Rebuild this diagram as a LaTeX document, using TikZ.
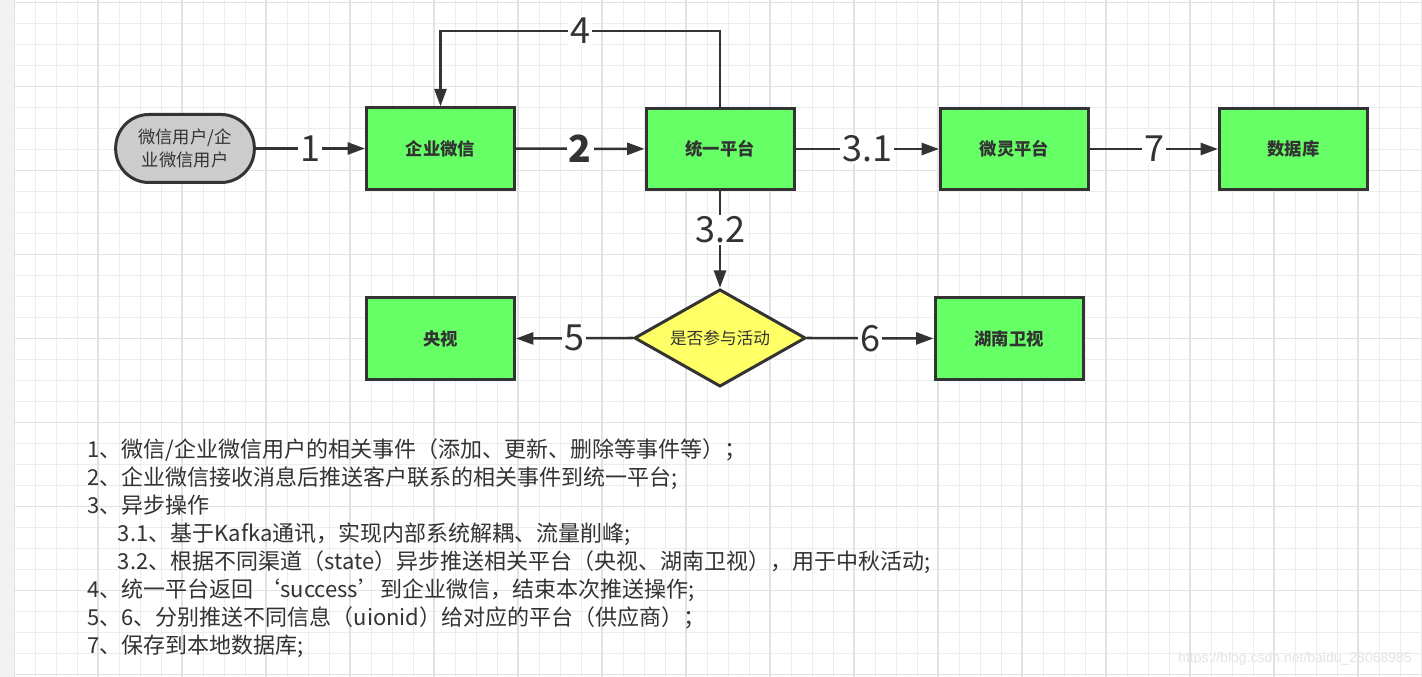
\documentclass[tikz,border=0pt]{standalone}
\usepackage{fontspec}
\setmainfont{Noto Sans CJK SC}
\newfontfamily\wmfont{Liberation Sans}
\usetikzlibrary{shapes.geometric,arrows.meta}
\definecolor{ink}{HTML}{333333}
\definecolor{boxgreen}{HTML}{66FF66}
\definecolor{dyellow}{HTML}{FFFF66}
\definecolor{sgray}{HTML}{CCCCCC}
\definecolor{gridminor}{HTML}{EDEDED}
\definecolor{gridmajor}{HTML}{E2E2E2}
\definecolor{stripgray}{HTML}{F2F2F2}
\definecolor{wmgray}{HTML}{E4E4E4}
\begin{document}
\begin{tikzpicture}[x=0.75pt,y=-0.75pt,
  procbox/.style={draw=ink, line width=2.25pt, fill=boxgreen, minimum width=111pt, minimum height=61pt,
    inner sep=0pt, text=ink, font=\bfseries\fontsize{13}{15}\selectfont},
  terminal/.style={draw=ink, line width=2.25pt, fill=sgray, rounded corners=25pt, minimum width=104pt,
    minimum height=51pt, align=center, text=ink, font=\fontsize{13}{17.25}\selectfont},
  decision/.style={diamond, aspect=1.74, draw=ink, line width=2.25pt, fill=dyellow, minimum width=128.5pt,
    minimum height=73pt, inner sep=0pt, text=ink, font=\fontsize{12.5}{15}\selectfont},
  flow/.style={draw=ink, line width=1.9pt, -{Triangle[length=13pt,width=9pt]}},
  lbl/.style={fill=white, text=ink, inner sep=1.5pt, font=\fontsize{27}{27}\selectfont},
  gminor/.style={draw=gridminor, line width=0.75pt},
  gmajor/.style={draw=gridmajor, line width=0.9pt}
]
\useasboundingbox (0,0) rectangle (1422,677);
\fill[white] (0,0) rectangle (1422,677);
% grid
\foreach \gx in {14,35,...,1422} \draw[gminor] (\gx,0) -- (\gx,677);
\foreach \gy in {2.5,23.5,...,677} \draw[gminor] (14,\gy) -- (1422,\gy);
\foreach \gx in {14,98,...,1422} \draw[gmajor] (\gx,0) -- (\gx,677);
\foreach \gy in {2.5,86.5,...,677} \draw[gmajor] (14,\gy) -- (1422,\gy);
\fill[stripgray] (0,0) rectangle (14,677);

% nodes
\node[terminal] (start) at (185,148.5) {微信用户/企\\业微信用户};
\node[procbox] (qy) at (440.5,148.5) {企业微信};
\node[procbox] (ty) at (720,149) {统一平台};
\node[procbox] (wl) at (1014.5,149) {微灵平台};
\node[procbox] (db) at (1293.5,149) {数据库};
\node[decision] (yd) at (720,338) {是否参与活动};
\node[procbox] (ys) at (440.5,338.5) {央视};
\node[procbox] (hn) at (1009,338.5) {湖南卫视};
\coordinate (c4) at (0,31);

% connectors
\draw[flow] (start) -- node[lbl]{1} (qy);
\draw[flow] (qy) -- node[lbl,font=\bfseries\fontsize{28}{28}\selectfont]{2} (ty);
\draw[flow] (ty) -- node[lbl]{3.1} (wl);
\draw[flow] (wl) -- node[lbl]{7} (db);
\draw[flow] (ty.north) |- node[lbl,pos=0.75]{4} (qy.north |- c4) -- (qy.north);
\draw[flow] (ty.south) -- node[lbl,pos=0.4]{3.2} (yd.north);
\draw[flow] (yd.west) -- node[lbl]{5} (ys.east);
\draw[flow] (yd.east) -- node[lbl]{6} (hn.west);

% notes
\node[anchor=north west, inner sep=0pt, align=left, text=ink, font=\fontsize{16.5}{21}\selectfont] (notes) at (87,438) {%
1、微信/企业微信用户的相关事件（添加、更新、删除等事件等）；\\
2、企业微信接收消息后推送客户联系的相关事件到统一平台;\\
3、异步操作\\
\hspace*{23pt}3.1、基于Kafka通讯，实现内部系统解耦、流量削峰;\\
\hspace*{23pt}3.2、根据不同渠道（state）异步推送相关平台（央视、湖南卫视），用于中秋活动;\\
4、统一平台返回 ‘success’到企业微信，结束本次推送操作;\\
5、6、分别推送不同信息（uionid）给对应的平台（供应商）；\\
7、保存到本地数据库;};

\node[anchor=east, inner sep=0pt, text=wmgray, font=\wmfont\fontsize{10.5}{12}\selectfont] (wm) at (1412,659) {https://blog.csdn.net/baidu\_28068985};
\end{tikzpicture}
\end{document}
